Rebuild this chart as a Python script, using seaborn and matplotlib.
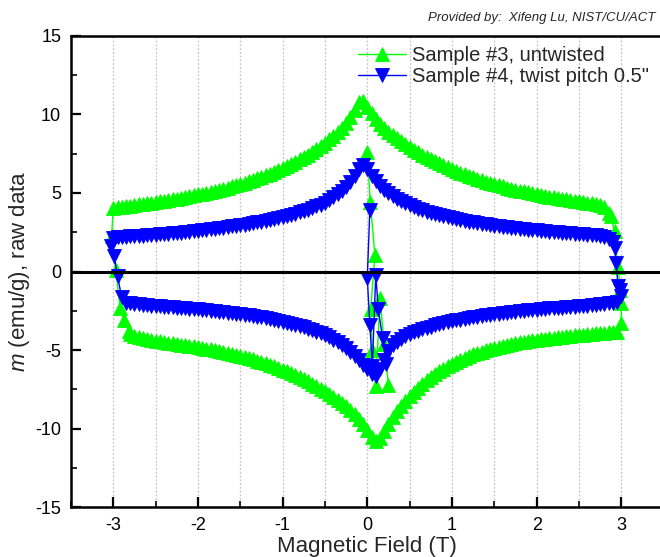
import numpy as np
import pandas as pd
import matplotlib
matplotlib.use("Agg")
import matplotlib.pyplot as plt
import seaborn as sns
from matplotlib.ticker import MultipleLocator

# ---------------- data ----------------
labels = ["Sample #3, untwisted", 'Sample #4, twist pitch 0.5"']

# Sample #3 upper branch, field from -3.00 T in 0.05 T steps
green_upper = [
    4.05, 4.08, 4.12, 4.15, 4.19, 4.23, 4.27, 4.31, 4.35, 4.39,
    4.43, 4.47, 4.51, 4.55, 4.60, 4.64, 4.69, 4.74, 4.79, 4.84,
    4.90, 4.95, 5.01, 5.07, 5.13, 5.20, 5.27, 5.34, 5.41, 5.49,
    5.57, 5.65, 5.74, 5.83, 5.92, 6.02, 6.12, 6.23, 6.34, 6.46,
    6.58, 6.71, 6.84, 6.98, 7.13, 7.28, 7.44, 7.61, 7.79, 7.98,
    8.18, 8.40, 8.63, 8.88, 9.15, 9.45, 9.80, 10.25, 10.75, 10.85,
    10.45, 10.05, 9.70, 9.40, 9.12, 8.88, 8.66, 8.46, 8.27, 8.09,
    7.92, 7.75, 7.59, 7.44, 7.29, 7.15, 7.01, 6.88, 6.75, 6.63,
    6.51, 6.40, 6.29, 6.19, 6.09, 5.99, 5.90, 5.81, 5.72, 5.64,
    5.56, 5.48, 5.41, 5.34, 5.27, 5.21, 5.15, 5.09, 5.03, 4.97,
    4.92, 4.87, 4.82, 4.77, 4.72, 4.68, 4.63, 4.59, 4.55, 4.51,
    4.47, 4.43, 4.39, 4.35, 4.30, 4.24, 4.12, 3.75,
]
# Sample #3 lower branch, field from -2.80 T in 0.05 T steps
green_lower = [
    -3.95, -4.08, -4.17, -4.24, -4.30, -4.35,
    -4.40, -4.44, -4.48, -4.52, -4.56, -4.60, -4.64, -4.68, -4.72, -4.76,
    -4.80, -4.85, -4.90, -4.95, -5.00, -5.05, -5.11, -5.17, -5.23, -5.30,
    -5.37, -5.44, -5.51, -5.59, -5.67, -5.75, -5.84, -5.93, -6.03, -6.13,
    -6.24, -6.35, -6.47, -6.59, -6.72, -6.85, -6.99, -7.13, -7.28, -7.44,
    -7.60, -7.77, -7.95, -8.14, -8.34, -8.56, -8.80, -9.06, -9.35, -9.70,
    -10.10, -10.50, -10.75, -10.60, -10.15, -9.70, -9.28, -8.90, -8.55, -8.22,
    -7.92, -7.64, -7.38, -7.14, -6.92, -6.72, -6.53, -6.35, -6.18, -6.02,
    -5.87, -5.73, -5.60, -5.48, -5.37, -5.27, -5.18, -5.09, -5.01, -4.93,
    -4.86, -4.79, -4.73, -4.67, -4.61, -4.56, -4.51, -4.46, -4.42, -4.38,
    -4.34, -4.30, -4.27, -4.24, -4.21, -4.18, -4.15, -4.12, -4.09, -4.06,
    -4.03, -4.01, -3.98, -3.96, -3.93, -3.91, -3.88, -3.86, -3.84, -3.82,
]
green_left_H = [-3.02, -2.97, -2.92, -2.87, -2.82]
green_left_m = [2.25, 0.10, -2.30, -3.10, -3.75]
green_right_H = [3.00, 3.00, 2.99, 2.96, 2.92, 2.88]
green_right_m = [-3.30, -2.00, -1.15, 0.30, 2.55, 3.50]
green_mid_H = [0.00, 0.035, 0.09, 0.04, 0.06, 0.10, 0.15, 0.20, 0.25]
green_mid_m = [7.60, 4.40, 1.05, -2.40, -5.00, -7.30, -1.70, -4.60, -7.20]

# Sample #4 upper branch, field from -3.00 T in 0.05 T steps
blue_upper = [
    2.15, 2.17, 2.19, 2.21, 2.23, 2.25, 2.27, 2.29, 2.31, 2.33,
    2.35, 2.37, 2.39, 2.41, 2.43, 2.45, 2.48, 2.51, 2.54, 2.57,
    2.60, 2.63, 2.66, 2.69, 2.72, 2.75, 2.79, 2.83, 2.87, 2.91,
    2.95, 2.99, 3.03, 3.08, 3.13, 3.18, 3.23, 3.29, 3.35, 3.41,
    3.47, 3.54, 3.61, 3.68, 3.76, 3.84, 3.93, 4.03, 4.14, 4.26,
    4.39, 4.54, 4.71, 4.91, 5.14, 5.40, 5.72, 6.10, 6.55, 6.80,
    6.50, 6.10, 5.75, 5.45, 5.20, 4.98, 4.79, 4.62, 4.47, 4.33,
    4.20, 4.09, 3.99, 3.90, 3.81, 3.73, 3.66, 3.59, 3.52, 3.46,
    3.40, 3.34, 3.28, 3.23, 3.18, 3.13, 3.08, 3.04, 3.00, 2.96,
    2.92, 2.88, 2.85, 2.82, 2.79, 2.76, 2.73, 2.70, 2.67, 2.64,
    2.61, 2.59, 2.56, 2.54, 2.51, 2.49, 2.47, 2.45, 2.43, 2.41,
    2.39, 2.37, 2.35, 2.33, 2.30, 2.26, 2.20, 2.10, 1.90,
]
# Sample #4 lower branch, field from -2.85 T in 0.05 T steps
blue_lower = [
    -2.00, -2.03, -2.06, -2.09, -2.12, -2.15, -2.18,
    -2.20, -2.22, -2.24, -2.26, -2.28, -2.30, -2.32, -2.34, -2.36, -2.38,
    -2.40, -2.43, -2.46, -2.49, -2.52, -2.55, -2.58, -2.61, -2.64, -2.67,
    -2.70, -2.74, -2.78, -2.82, -2.86, -2.91, -2.96, -3.01, -3.07, -3.13,
    -3.19, -3.25, -3.32, -3.39, -3.47, -3.55, -3.64, -3.73, -3.83, -3.94,
    -4.06, -4.19, -4.34, -4.50, -4.68, -4.88, -5.10, -5.35, -5.62, -5.92,
    -6.22, -6.50, -6.62, -6.20, -5.60, -5.05, -4.70, -4.45, -4.27, -4.12,
    -3.99, -3.87, -3.77, -3.67, -3.58, -3.50, -3.42, -3.35, -3.28, -3.22,
    -3.16, -3.10, -3.05, -3.00, -2.95, -2.91, -2.87, -2.83, -2.79, -2.75,
    -2.72, -2.68, -2.65, -2.62, -2.59, -2.56, -2.53, -2.50, -2.47, -2.45,
    -2.42, -2.40, -2.37, -2.35, -2.33, -2.31, -2.29, -2.27, -2.25, -2.23,
    -2.21, -2.19, -2.17, -2.15, -2.12, -2.09, -2.05, -2.01, -1.97, -1.92,
]
blue_left_H = [-3.03, -2.99, -2.95, -2.90]
blue_left_m = [1.60, 0.97, -0.30, -1.65]
blue_right_H = [3.00, 2.98, 2.96, 2.94, 2.92]
blue_right_m = [-1.57, -1.20, -0.90, 0.55, 1.50]
blue_mid_H = [0.03, 0.00, 0.03, 0.06, 0.10, 0.13, 0.18, 0.22]
blue_mid_m = [3.90, -0.40, -3.40, -6.00, -0.20, -2.40, -4.20, -5.90]

# ---------------- assemble sweep order ----------------
def sweep(upper, up_start, lower, lo_start, lH, lm, rH, rm):
    uH = np.round(up_start + 0.05 * np.arange(len(upper)), 2)
    dH = np.round(lo_start + 0.05 * np.arange(len(lower)), 2)
    H = list(uH[::-1]) + lH + list(dH) + rH
    m = list(np.array(upper)[::-1]) + lm + list(lower) + rm
    return H, m

gH, gm = sweep(green_upper, -3.00, green_lower, -2.80,
               green_left_H, green_left_m, green_right_H, green_right_m)
bH, bm = sweep(blue_upper, -3.00, blue_lower, -2.85,
               blue_left_H, blue_left_m, blue_right_H, blue_right_m)

df_g = pd.DataFrame({"H": gH, "m": gm})
df_b = pd.DataFrame({"H": bH, "m": bm})
df_gm = pd.DataFrame({"H": green_mid_H, "m": green_mid_m})
df_bm = pd.DataFrame({"H": blue_mid_H, "m": blue_mid_m})

# ---------------- style ----------------
sns.set_style("white")
plt.rcParams["font.family"] = ["Liberation Sans", "DejaVu Sans"]
plt.rcParams["mathtext.fontset"] = "custom"
plt.rcParams["mathtext.it"] = "Liberation Sans:italic"
plt.rcParams["mathtext.rm"] = "Liberation Sans"
plt.rcParams["axes.unicode_minus"] = False

GREEN = "#00FF00"
BLUE = "#0000FF"

fig = plt.figure(figsize=(6.6, 5.57), dpi=100)
ax = fig.add_axes([0.1075, 0.089, 0.898, 0.847])

common = dict(sort=False, estimator=None, linewidth=1.0, markersize=10.5,
              markeredgewidth=0.6, ax=ax)
sns.lineplot(data=df_g, x="H", y="m", marker="^", color=GREEN,
             markeredgecolor=GREEN, label=labels[0], zorder=2, **common)
sns.lineplot(data=df_gm, x="H", y="m", marker="^", color=GREEN,
             markeredgecolor=GREEN, legend=False, zorder=2, **common)
sns.lineplot(data=df_b, x="H", y="m", marker="v", color=BLUE,
             markeredgecolor=BLUE, label=labels[1], zorder=2.1, **common)
sns.lineplot(data=df_bm, x="H", y="m", marker="v", color=BLUE,
             markeredgecolor=BLUE, legend=False, zorder=2.1, **common)

ax.axhline(0, color="black", linewidth=2.2, zorder=3)

ax.set_xlim(-3.5, 3.5)
ax.set_ylim(-15, 15)
ax.xaxis.set_major_locator(MultipleLocator(1))
ax.xaxis.set_minor_locator(MultipleLocator(0.5))
ax.yaxis.set_major_locator(MultipleLocator(5))
ax.yaxis.set_minor_locator(MultipleLocator(2.5))

for gx in np.arange(-3.0, 3.01, 0.5):
    ax.axvline(gx, color="#C4C4C4", linestyle=(0, (1.5, 1.5)), linewidth=0.9, zorder=0.5)

ax.tick_params(axis="both", which="major", direction="in", length=7, width=1.6,
               labelsize=13, colors="black", bottom=True, left=True, top=False, right=False)
ax.tick_params(axis="both", which="minor", direction="in", length=4, width=1.4,
               bottom=True, left=True, top=False, right=False)
ax.tick_params(axis="x", which="major", pad=7)
ax.tick_params(axis="y", which="major", pad=7)

for side in ["left", "bottom", "top"]:
    ax.spines[side].set_visible(True)
    ax.spines[side].set_linewidth(1.8)
    ax.spines[side].set_color("black")
ax.spines["right"].set_visible(False)

ax.set_xlabel("Magnetic Field (T)", fontsize=16, labelpad=1)
ax.set_ylabel(r"$m$ (emu/g), raw data", fontsize=16, labelpad=2)

handles, labs = ax.get_legend_handles_labels()
leg = ax.legend(handles[:2], labs[:2], loc="upper left", frameon=False,
                bbox_to_anchor=(358 / 660, 1 - 46 / 557), bbox_transform=fig.transFigure,
                fontsize=14.5, handlelength=2.4, handletextpad=0.3,
                borderpad=0, borderaxespad=0, labelspacing=0.1)

fig.text(655 / 660, 1 - 18 / 557, "Provided by:  Xifeng Lu, NIST/CU/ACT",
         ha="right", va="center", fontsize=9.5, style="italic")

fig.savefig("out.png", dpi=100)
